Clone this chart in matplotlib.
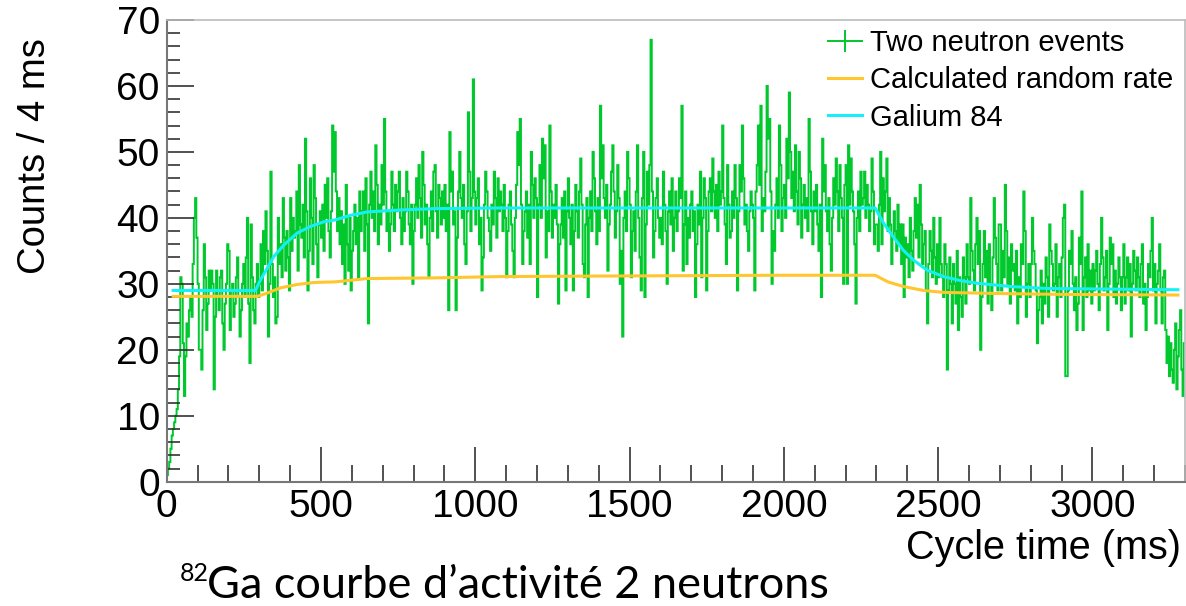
import matplotlib
matplotlib.use("Agg")
import matplotlib.pyplot as plt
from matplotlib.lines import Line2D
import numpy as np

plt.rcParams['font.family'] = ['Liberation Sans', 'DejaVu Sans']

# two neutron events, counts per 4 ms bin, one row = 100 ms (25 bins)
bin_width = 4
counts = [
    1, 2, 3, 5, 7, 8, 9, 10, 11, 14, 19, 31, 30, 21, 13, 19, 24, 22, 26, 28, 25, 33, 40, 43, 37,
    30, 20, 20, 17, 26, 36, 31, 23, 27, 32, 29, 32, 30, 14, 25, 32, 28, 26, 31, 32, 24, 20, 27, 30, 36,
    35, 23, 29, 30, 25, 27, 31, 34, 28, 22, 26, 30, 33, 28, 34, 40, 27, 18, 39, 31, 26, 24, 30, 33, 28,
    30, 36, 29, 38, 33, 41, 35, 22, 30, 47, 33, 28, 31, 24, 25, 40, 33, 36, 31, 43, 37, 32, 38, 34, 29,
    43, 35, 40, 37, 38, 44, 32, 48, 39, 37, 42, 34, 52, 41, 29, 35, 46, 40, 33, 48, 43, 36, 31, 39, 41,
    37, 42, 35, 45, 40, 46, 38, 34, 41, 54, 47, 53, 44, 38, 43, 36, 41, 33, 39, 30, 45, 36, 32, 40, 29,
    35, 38, 42, 36, 40, 31, 44, 38, 41, 44, 35, 46, 39, 24, 42, 47, 40, 44, 38, 51, 45, 36, 42, 39, 48,
    42, 55, 44, 38, 41, 35, 39, 47, 42, 38, 45, 41, 44, 47, 40, 36, 43, 38, 41, 47, 44, 39, 36, 42, 30,
    38, 42, 46, 40, 48, 43, 37, 50, 45, 39, 42, 36, 31, 40, 44, 38, 47, 48, 41, 37, 45, 43, 39, 44, 40,
    45, 38, 42, 26, 53, 44, 47, 39, 41, 26, 37, 44, 50, 43, 40, 45, 36, 33, 41, 56, 47, 38, 43, 61, 44,
    39, 43, 46, 36, 40, 29, 34, 42, 47, 44, 40, 38, 35, 42, 39, 47, 43, 37, 46, 41, 44, 42, 38, 45, 40,
    31, 38, 42, 44, 39, 35, 31, 40, 45, 53, 48, 55, 42, 33, 38, 41, 44, 37, 42, 33, 50, 45, 40, 46, 43,
    28, 42, 48, 40, 52, 46, 51, 34, 41, 38, 54, 44, 37, 42, 40, 45, 39, 27, 36, 39, 43, 37, 44, 29, 41,
    46, 40, 36, 42, 29, 38, 45, 41, 37, 44, 49, 42, 33, 31, 39, 43, 28, 40, 44, 38, 50, 46, 41, 36, 43,
    38, 57, 46, 51, 43, 40, 45, 32, 39, 42, 47, 51, 44, 37, 41, 48, 43, 30, 35, 22, 40, 44, 38, 50, 46,
    42, 31, 38, 41, 35, 44, 51, 40, 34, 29, 43, 50, 28, 39, 47, 42, 48, 67, 44, 34, 38, 43, 46, 40, 37,
    40, 36, 47, 42, 38, 30, 41, 44, 39, 46, 35, 40, 44, 38, 41, 46, 43, 57, 32, 39, 44, 33, 40, 37, 42,
    44, 38, 41, 28, 36, 42, 39, 47, 31, 40, 46, 43, 29, 38, 44, 46, 41, 49, 44, 40, 45, 38, 47, 42, 44,
    54, 43, 39, 33, 48, 42, 37, 38, 44, 40, 48, 43, 29, 41, 48, 44, 54, 46, 39, 42, 38, 35, 41, 44, 42,
    40, 29, 44, 48, 54, 45, 57, 38, 43, 41, 47, 60, 52, 55, 44, 30, 38, 35, 42, 46, 40, 54, 48, 38, 43,
    45, 40, 52, 46, 59, 50, 43, 47, 41, 51, 44, 39, 50, 46, 37, 42, 45, 40, 43, 38, 55, 47, 41, 36, 44,
    41, 45, 39, 35, 42, 28, 52, 44, 48, 41, 38, 43, 36, 32, 40, 46, 42, 49, 44, 38, 48, 43, 40, 30, 45,
    48, 30, 51, 42, 49, 44, 41, 36, 27, 40, 44, 38, 47, 42, 43, 47, 40, 45, 42, 38, 41, 49, 44, 36, 39,
    39, 35, 42, 50, 36, 46, 41, 44, 49, 38, 43, 39, 33, 37, 41, 38, 35, 42, 36, 39, 33, 39, 28, 37, 34,
    36, 31, 40, 35, 32, 38, 43, 37, 42, 34, 45, 39, 33, 36, 38, 29, 24, 33, 38, 35, 31, 40, 34, 30, 36,
    31, 40, 33, 31, 28, 36, 33, 17, 29, 34, 30, 24, 33, 30, 27, 35, 23, 31, 28, 25, 34, 31, 27, 36, 31,
    30, 43, 35, 32, 29, 36, 40, 33, 38, 20, 28, 33, 38, 31, 35, 27, 36, 30, 26, 34, 43, 37, 33, 29, 39,
    39, 29, 35, 31, 45, 38, 30, 34, 27, 36, 32, 33, 29, 35, 24, 31, 28, 36, 33, 44, 38, 25, 30, 33, 28,
    33, 40, 35, 33, 29, 21, 26, 28, 32, 24, 30, 27, 34, 31, 25, 39, 35, 33, 29, 30, 36, 25, 31, 33, 28,
    34, 40, 42, 16, 16, 29, 35, 33, 38, 30, 26, 31, 23, 27, 37, 33, 44, 23, 31, 34, 28, 36, 29, 32, 27,
    33, 29, 32, 35, 30, 26, 33, 40, 34, 29, 31, 35, 23, 30, 37, 33, 36, 28, 32, 27, 30, 34, 31, 26, 31,
    36, 27, 31, 34, 29, 33, 22, 30, 35, 32, 29, 34, 31, 28, 33, 36, 27, 30, 23, 28, 33, 31, 35, 40, 29,
    33, 24, 30, 32, 36, 29, 24, 31, 32, 23, 18, 22, 16, 21, 17, 15, 20, 24, 14, 19, 23, 26, 17, 13, 21,
]

# Galium 84 curve (ms, counts)
ga_t = [16, 100, 200, 288, 304, 326, 348, 380, 423, 466, 509, 547, 596, 650, 758, 866, 1082,
        1500, 2000, 2296, 2323, 2355, 2387, 2420, 2463, 2517, 2571, 2625, 2733, 2852, 3068, 3282]
ga_y = [29.0, 29.0, 29.0, 29.0, 30.6, 32.4, 34.2, 35.9, 37.7, 38.7, 39.4, 39.7, 40.4, 40.9, 41.2,
        41.4, 41.5, 41.5, 41.5, 41.5, 39.2, 37.1, 35.1, 33.6, 32.1, 31.1, 30.5, 30.1, 29.6, 29.3,
        29.2, 29.1]

# calculated random rate (ms, counts)
rnd_t = [16, 150, 294, 326, 369, 423, 477, 547, 650, 866, 1082, 1500, 2000, 2296, 2337, 2387,
         2452, 2517, 2625, 2733, 2900, 3282]
rnd_y = [28.1, 28.1, 28.1, 28.6, 29.4, 29.9, 30.2, 30.3, 30.8, 30.9, 31.1, 31.2, 31.3, 31.3,
         30.3, 29.6, 29.0, 28.7, 28.6, 28.5, 28.4, 28.3]

green = '#00c82d'
orange = '#ffc62e'
cyan = '#14f0f5'
W, H = 1186, 606

fig = plt.figure(figsize=(W / 100, H / 100), dpi=100)
ax = fig.add_axes([166.7 / W, 1 - 481.7 / H, (1185 - 166.7) / W, (481.7 - 20) / H])

edges = np.arange(len(counts) + 1) * bin_width
ax.stairs(counts, edges, color=green, linewidth=1.4, baseline=None)
ax.plot(rnd_t, rnd_y, color=orange, linewidth=2.2, solid_capstyle='butt')
ax.plot(ga_t, ga_y, color=cyan, linewidth=2.2, solid_capstyle='butt')

ax.set_xlim(0, 3300)
ax.set_ylim(0, 70)
ax.set_xticks(np.arange(0, 3001, 500))
ax.set_xticks(np.arange(0, 3301, 100), minor=True)
ax.set_yticks(np.arange(0, 71, 10))
ax.set_yticks(np.arange(0, 71, 2), minor=True)
ax.tick_params(axis='both', which='both', direction='in', colors='#333333', width=1.2,
               labelsize=28, labelcolor='black')
ax.tick_params(axis='x', which='major', length=25, pad=5)
ax.tick_params(axis='x', which='minor', length=12)
ax.tick_params(axis='y', which='major', length=19.5, pad=5)
ax.tick_params(axis='y', which='minor', length=9.5)
for side in ['left', 'bottom']:
    ax.spines[side].set_color('#777777')
    ax.spines[side].set_linewidth(1.5)
for side in ['top', 'right']:
    ax.spines[side].set_color('#bbbbbb')
    ax.spines[side].set_linewidth(1.2)

fig.text(35 / W, 1 - 38 / H, 'Counts / 4 ms', rotation=90, ha='center', va='top', fontsize=27.5)
fig.text(1181 / W, 1 - 548 / H, 'Cycle time (ms)', ha='right', va='center', fontsize=28.5)

handles = [
    Line2D([], [], color=green, linewidth=1.4, marker='|', markersize=16, markeredgewidth=1.4),
    Line2D([], [], color=orange, linewidth=2.2),
    Line2D([], [], color=cyan, linewidth=2.2),
]
labels = ['Two neutron events', 'Calculated random rate', 'Galium 84']
ax.legend(handles, labels, loc='upper left', bbox_to_anchor=(828 / W, 1 - 29 / H),
          bbox_transform=fig.transFigure, frameon=False, fontsize=21, handlelength=1.15,
          handletextpad=0.3, labelspacing=0.32, borderpad=0, borderaxespad=0)

fig.text(180 / W, 1 - 581 / H, '82', ha='left', va='baseline', fontsize=18,
         family=['Lato', 'DejaVu Sans'])
fig.text(207 / W, 1 - 598 / H, 'Ga courbe d\u2019activit\u00e9 2 neutrons', ha='left',
         va='baseline', fontsize=32.5, family=['Lato', 'DejaVu Sans'])

fig.savefig('out.png', dpi=100)
